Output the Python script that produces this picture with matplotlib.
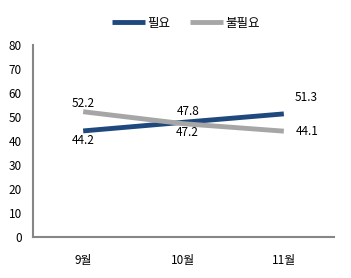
import matplotlib.pyplot as plt

plt.rcParams['font.family'] = ['Noto Sans CJK KR', 'DejaVu Sans']

months = ['9월', '10월', '11월']
need = [44.2, 47.8, 51.3]
no_need = [52.2, 47.2, 44.1]

fig = plt.figure(figsize=(3.51, 2.78), dpi=100)
ax = fig.add_axes([33/351, 41/278, 301/351, 192/278])

x = range(len(months))
ax.plot(x, need, color='#1F497D', lw=3.5, label='필요', solid_capstyle='butt')
ax.plot(x, no_need, color='#A6A6A6', lw=3.5, label='불필요', solid_capstyle='butt')

fs = 8.5
# data labels
ax.annotate(f'{need[0]}', (0, need[0]), xytext=(0, -7), textcoords='offset points', ha='center', va='center', fontsize=fs)
ax.annotate(f'{no_need[0]}', (0, no_need[0]), xytext=(0, 6), textcoords='offset points', ha='center', va='center', fontsize=fs)
ax.annotate(f'{need[1]}', (1, need[1]), xytext=(3, 8), textcoords='offset points', ha='center', va='center', fontsize=fs)
ax.annotate(f'{no_need[1]}', (1, no_need[1]), xytext=(3, -6), textcoords='offset points', ha='center', va='center', fontsize=fs)
ax.annotate(f'{need[2]}', (2, need[2]), xytext=(16, 12), textcoords='offset points', ha='center', va='center', fontsize=fs)
ax.annotate(f'{no_need[2]}', (2, no_need[2]), xytext=(17, 0), textcoords='offset points', ha='center', va='center', fontsize=fs)

ax.set_xlim(-0.5, 2.5)
ax.set_ylim(0, 80)
ax.set_yticks(range(0, 81, 10))
ax.set_xticks(list(x))
ax.set_xticklabels(months)
ax.tick_params(length=0, labelsize=fs)
ax.tick_params(axis='x', pad=12)
ax.tick_params(axis='y', pad=8)
for s in ['top', 'right']:
    ax.spines[s].set_visible(False)
for s in ['left', 'bottom']:
    ax.spines[s].set_color('#868686')
    ax.spines[s].set_linewidth(1.5)

fig.legend(loc='upper center', bbox_to_anchor=(0.53, 0.98), ncol=2, frameon=False,
           fontsize=9, handlelength=2.6, columnspacing=1.6, handletextpad=0.2)

fig.savefig('out.png', dpi=100)
